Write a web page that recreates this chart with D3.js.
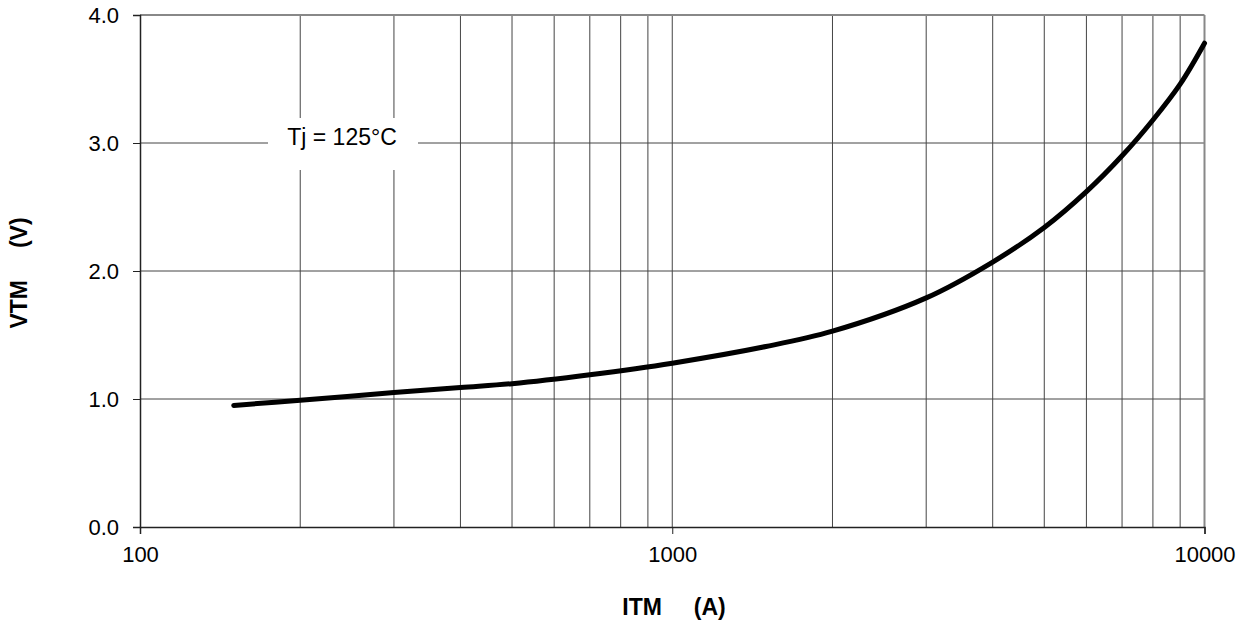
<!DOCTYPE html>
<html>
<head>
<meta charset="utf-8">
<script src="https://cdn.jsdelivr.net/npm/d3@7"></script>
<style>
  body { margin: 0; background: #fff; }
  text { font-family: "Liberation Sans", Arial, sans-serif; }
</style>
</head>
<body>
<svg id="chart" width="1243" height="628"></svg>
<script>
// on-state voltage vs current, Tj = 125°C
const itm = [150, 200, 300, 400, 500, 700, 1000, 1500, 2000, 3000, 4000, 5000, 6000, 7000, 8000, 9000, 10000]
const vtm = [0.95, 0.99, 1.05, 1.09, 1.12, 1.19, 1.28, 1.41, 1.53, 1.79, 2.07, 2.34, 2.62, 2.90, 3.18, 3.46, 3.78]
const xGrid = [200, 300, 400, 500, 600, 700, 800, 900, 1000, 2000, 3000, 4000, 5000, 6000, 7000, 8000, 9000]
const xTicks = [100, 1000, 10000]
const yTicks = [0, 1, 2, 3, 4]

const svg = d3.select('#chart')
const plotLeft = 140, plotRight = 1204.5, plotTop = 15, plotBottom = 527

const x = d3.scaleLog().domain([100, 10000]).range([plotLeft, plotRight])
const y = d3.scaleLinear().domain([0, 4]).range([plotBottom, plotTop])

// grid
svg.append('g').selectAll('line')
  .data(xGrid)
  .join('line')
  .attr('x1', d => x(d)).attr('x2', d => x(d))
  .attr('y1', plotTop).attr('y2', plotBottom)
  .attr('stroke', '#444').attr('stroke-width', 1)

svg.append('g').selectAll('line')
  .data(yTicks.filter(d => d > 0 && d < 4))
  .join('line')
  .attr('x1', plotLeft).attr('x2', plotRight)
  .attr('y1', d => y(d)).attr('y2', d => y(d))
  .attr('stroke', '#444').attr('stroke-width', 1)

// frame: top and right in gray
svg.append('line').attr('x1', plotLeft).attr('x2', plotRight).attr('y1', plotTop).attr('y2', plotTop)
  .attr('stroke', '#888').attr('stroke-width', 2)
svg.append('line').attr('x1', plotRight).attr('x2', plotRight).attr('y1', plotTop).attr('y2', plotBottom)
  .attr('stroke', '#888').attr('stroke-width', 2)

// axes
const xAxis = d3.axisBottom(x).tickValues(xTicks).tickFormat(d3.format('d')).tickSizeOuter(0).tickSize(7).tickPadding(8)
const yAxis = d3.axisLeft(y).tickValues(yTicks).tickFormat(d3.format('.1f')).tickSizeOuter(0).tickSize(7).tickPadding(14)

const gx = svg.append('g').attr('transform', `translate(0,${plotBottom})`).call(xAxis)
const gy = svg.append('g').attr('transform', `translate(${plotLeft},0)`).call(yAxis)
for (const g of [gx, gy]) {
  g.select('.domain').attr('stroke', '#222').attr('stroke-width', 1.5)
  g.selectAll('.tick line').attr('stroke', '#222')
  g.selectAll('.tick text').attr('fill', '#000').style('font-size', '22px')
    .style('font-family', '"Liberation Sans", Arial, sans-serif')
}
gx.selectAll('.tick text').attr('dy', '0.9em')

// label box
svg.append('rect').attr('x', 268).attr('y', 118).attr('width', 150).attr('height', 52).attr('fill', '#fff')
svg.append('text').attr('x', 342).attr('y', 145).attr('text-anchor', 'middle')
  .style('font-size', '23px').text('Tj = 125°C')

// curve
const line = d3.line().x(d => x(d[0])).y(d => y(d[1])).curve(d3.curveCatmullRom.alpha(0.5))
svg.append('path')
  .datum(itm.map((d, i) => [d, vtm[i]]))
  .attr('d', line)
  .attr('fill', 'none').attr('stroke', '#000').attr('stroke-width', 5).attr('stroke-linecap', 'round')

// axis titles
svg.append('text').attr('x', 674).attr('y', 615).attr('text-anchor', 'middle')
  .style('font-size', '23px').style('font-weight', 'bold').attr('xml:space', 'preserve')
  .text('ITM     (A)')
svg.append('text').attr('transform', 'translate(27,273) rotate(-90)').attr('text-anchor', 'middle')
  .style('font-size', '23px').style('font-weight', 'bold').attr('xml:space', 'preserve')
  .text('VTM     (V)')
</script>
</body>
</html>
